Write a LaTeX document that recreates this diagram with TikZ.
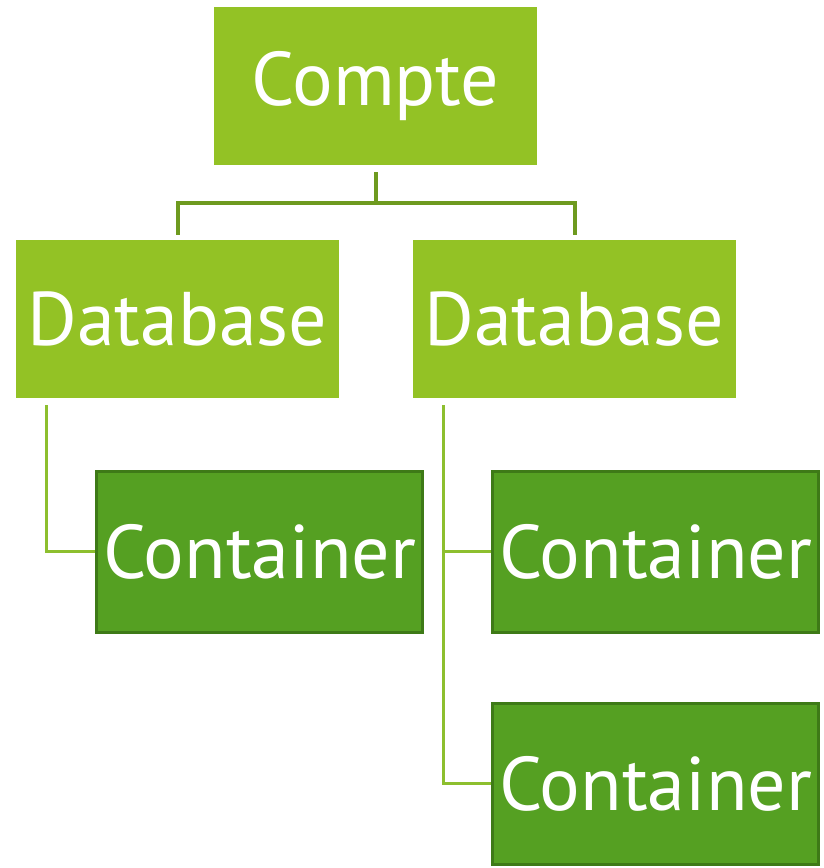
\documentclass[tikz,border=0pt]{standalone}
\usepackage{fontspec}
\setmainfont{PT Sans}
\usepackage{tikz}

\definecolor{LeafGreen}{HTML}{93C225}
\definecolor{BoxGreen}{HTML}{55A022}
\definecolor{BoxEdge}{HTML}{3E7A17}
\definecolor{TopLink}{HTML}{6E9A1F}
\definecolor{SubLink}{HTML}{8DBF2E}

\tikzset{
  levelbox/.style={fill=LeafGreen, text=white, minimum width=323pt, minimum height=158pt,
    inner sep=0pt, font=\fontsize{76}{76}\selectfont},
  leafbox/.style={fill=BoxGreen, draw=BoxEdge, line width=3pt, text=white,
    minimum width=326pt, minimum height=161pt, inner sep=0pt, font=\fontsize{76}{76}\selectfont},
  toplink/.style={draw=TopLink, line width=4pt},
  sublink/.style={draw=SubLink, line width=3pt}
}

\begin{document}
\begin{tikzpicture}[x=1pt,y=1pt]
		\useasboundingbox (0,0) rectangle (823,868);
		% account and databases
		\node[levelbox] (compte) at (375.5,782) {Compte};
		\node[levelbox] (dbL) at (177.5,549) {Database};
		\node[levelbox] (dbR) at (574.5,549) {Database};
		% containers
		\node[leafbox] (ctL) at (259.5,316) {Container};
		\node[leafbox] (ctRa) at (655.5,316) {Container};
		\node[leafbox] (ctRb) at (655.5,84) {Container};
		% links
		\draw[toplink] ([yshift=-7pt]compte.south) -- ++(0,-31) coordinate (fork);
		\draw[toplink] ([yshift=5pt]dbL.north) |- (fork) -| ([yshift=5pt]dbR.north);
		\draw[sublink] ([xshift=31pt,yshift=-7pt]dbL.south west) |- (ctL.west);
		\draw[sublink] ([xshift=31pt,yshift=-7pt]dbR.south west) |- (ctRa.west);
		\draw[sublink] ([xshift=31pt,yshift=-7pt]dbR.south west) |- (ctRb.west);
	\end{tikzpicture}
\end{document}
